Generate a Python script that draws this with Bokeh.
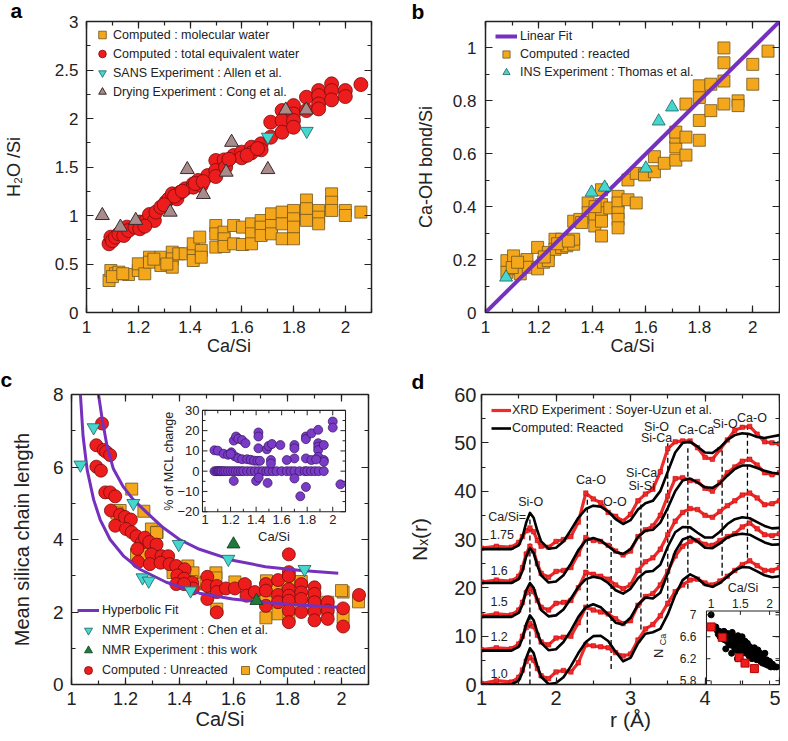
import math
from bokeh.plotting import figure
from bokeh.layouts import column, row
from bokeh.models import (LinearAxis, SingleIntervalTicker, Legend, Range1d, Title,
                          CustomJSTickFormatter, Whisker, ColumnDataSource, TeeHead)
from bokeh.embed import file_html
from bokeh.resources import INLINE
from bokeh.core.properties import value

# ---------------- panel a data ----------------
a_mol_x = [1.087, 1.094, 1.112, 1.125, 1.162, 1.2, 1.2, 1.225, 1.243, 1.243, 1.287, 1.287, 1.331, 1.331, 1.331,
           1.356, 1.381, 1.412, 1.412, 1.412, 1.437, 1.443, 1.443, 1.499, 1.499, 1.499, 1.531, 1.531, 1.531,
           1.568, 1.568, 1.602, 1.602, 1.637, 1.637, 1.637, 1.674, 1.674, 1.674, 1.714, 1.714, 1.714, 1.755,
           1.755, 1.755, 1.799, 1.799, 1.799, 1.799, 1.849, 1.849, 1.849, 1.896, 1.896, 1.896, 1.946, 1.946,
           1.946, 1.999, 1.999, 2.059, 1.10, 1.14, 1.26, 1.31]
a_mol_y = [0.330, 0.433, 0.399, 0.416, 0.392, 0.433, 0.502, 0.399, 0.570, 0.519, 0.570, 0.485, 0.622, 0.553, 0.467,
           0.605, 0.605, 0.622, 0.708, 0.536, 0.777, 0.639, 0.570, 0.897, 0.811, 0.674, 0.828, 0.760, 0.681,
           0.897, 0.708, 0.880, 0.701, 0.914, 0.811, 0.708, 0.948, 0.880, 0.794, 1.017, 0.897, 0.811, 1.035,
           0.914, 0.760, 1.052, 0.966, 0.880, 0.760, 1.160, 1.070, 0.950, 1.052, 0.983, 0.914, 1.223, 1.137,
           1.052, 1.052, 1.000, 1.035, 0.370, 0.400, 0.550, 0.500]
a_tot_x = [1.087, 1.094, 1.100, 1.112, 1.125, 1.144, 1.156, 1.162, 1.187, 1.206, 1.206, 1.231, 1.243, 1.262,
           1.268, 1.287, 1.306, 1.318, 1.331, 1.349, 1.362, 1.381, 1.412, 1.412, 1.431, 1.443, 1.468, 1.499,
           1.499, 1.499, 1.531, 1.537, 1.568, 1.599, 1.599, 1.637, 1.637, 1.674, 1.674, 1.711, 1.711, 1.755,
           1.755, 1.755, 1.799, 1.799, 1.799, 1.799, 1.849, 1.849, 1.896, 1.896, 1.896, 1.896, 1.946, 1.946,
           1.946, 1.999, 1.999, 2.059, 1.225, 1.300, 1.340, 1.370, 1.420, 1.450, 1.550, 1.620, 1.660]
a_tot_y = [0.708, 0.777, 0.740, 0.777, 0.811, 0.794, 0.880, 0.845, 0.880, 0.932, 0.863, 0.948, 1.010, 0.948,
           1.035, 1.086, 1.137, 1.172, 1.223, 1.172, 1.240, 1.275, 1.326, 1.292, 1.361, 1.309, 1.412, 1.567,
           1.464, 1.402, 1.573, 1.498, 1.618, 1.653, 1.595, 1.704, 1.646, 1.739, 1.677, 1.962, 1.807, 2.082,
           1.979, 1.859, 2.133, 2.047, 1.979, 1.910, 2.219, 2.082, 2.288, 2.236, 2.150, 2.099, 2.357, 2.288,
           2.192, 2.288, 2.226, 2.350, 0.890, 1.110, 1.200, 1.250, 1.330, 1.350, 1.580, 1.620, 1.690]
a_sans_x = [1.70, 1.85]
a_sans_y = [1.81, 1.87]
a_dry_x = [1.061, 1.131, 1.19, 1.323, 1.389, 1.451, 1.539, 1.56, 1.70, 1.769, 1.848]
a_dry_y = [1.00, 0.88, 0.95, 1.035, 1.474, 1.217, 1.447, 1.755, 1.474, 2.088, 2.088]

# ---------------- panel b data ----------------
b_fit_x = [1.0, 2.1]
b_fit_y = [0.0, 1.1]
b_comp_x = [1.08, 1.08, 1.105, 1.105, 1.13, 1.13, 1.155, 1.16, 1.195, 1.195, 1.217, 1.235, 1.235, 1.26, 1.26,
            1.285, 1.285, 1.304, 1.33, 1.33, 1.33, 1.353, 1.384, 1.384, 1.409, 1.409, 1.434, 1.434, 1.434,
            1.434, 1.434, 1.465, 1.496, 1.496, 1.496, 1.496, 1.496, 1.533, 1.533, 1.564, 1.564, 1.595, 1.632,
            1.632, 1.669, 1.712, 1.712, 1.712, 1.712, 1.75, 1.75, 1.75, 1.8, 1.8, 1.8, 1.8, 1.843, 1.843,
            1.892, 1.892, 1.892, 1.892, 1.945, 1.945, 2.0, 2.0, 2.057, 1.10, 1.12, 1.22, 1.27, 1.31, 1.36, 1.41]
b_comp_y = [0.196, 0.152, 0.214, 0.165, 0.177, 0.146, 0.2, 0.171, 0.246, 0.165, 0.19, 0.227, 0.196, 0.277, 0.239,
            0.277, 0.246, 0.252, 0.258, 0.277, 0.345, 0.352, 0.414, 0.377, 0.358, 0.327, 0.464, 0.408, 0.377,
            0.345, 0.289, 0.395, 0.439, 0.414, 0.377, 0.352, 0.32, 0.426, 0.501, 0.414, 0.526, 0.52, 0.532,
            0.589, 0.564, 0.576, 0.626, 0.663, 0.682, 0.595, 0.663, 0.788, 0.651, 0.726, 0.813, 0.857, 0.763,
            0.863, 0.788, 0.875, 0.944, 1.0, 0.8, 0.782, 0.863, 0.938, 0.988, 0.17, 0.19, 0.21, 0.26, 0.27,
            0.34, 0.40]
b_ins_x = [1.077, 1.397, 1.446, 1.60, 1.648, 1.698]
b_ins_y = [0.133, 0.454, 0.473, 0.545, 0.723, 0.776]

# ---------------- panel c data ----------------
c_fit_up_x = [1.100, 1.113, 1.131, 1.155, 1.192, 1.229, 1.278, 1.339, 1.400, 1.474, 1.596, 1.718, 1.841, 1.988]
c_fit_up_y = [8.00, 7.35, 6.60, 5.95, 5.45, 5.10, 4.75, 4.33, 4.00, 3.73, 3.43, 3.25, 3.15, 3.07]
c_fit_lo_x = [1.033, 1.043, 1.058, 1.082, 1.106, 1.143, 1.192, 1.253, 1.351, 1.474, 1.596, 1.718, 1.841, 1.988]
c_fit_lo_y = [8.00, 6.84, 5.92, 5.10, 4.55, 4.00, 3.55, 3.18, 2.82, 2.52, 2.36, 2.26, 2.19, 2.13]
c_chen_x = [1.033, 1.082, 1.229, 1.263, 1.286, 1.397, 1.441, 1.581, 1.863]
c_chen_y = [6.06, 7.09, 5.00, 2.95, 2.86, 3.87, 2.59, 3.46, 3.18]
c_this_x = [1.60, 1.685]
c_this_y = [3.87, 2.31]
c_unr_x = [1.113, 1.092, 1.119, 1.128, 1.143, 1.092, 1.109, 1.125, 1.143, 1.162, 1.146, 1.18, 1.198, 1.22, 1.162,
           1.202, 1.223, 1.241, 1.26, 1.272, 1.244, 1.288, 1.315, 1.296, 1.333, 1.358, 1.247, 1.29, 1.33, 1.363,
           1.388, 1.419, 1.392, 1.417, 1.447, 1.45, 1.388, 1.417, 1.503, 1.503, 1.503, 1.538, 1.538, 1.538,
           1.572, 1.605, 1.642, 1.648, 1.679, 1.72, 1.72, 1.72, 1.765, 1.765, 1.765, 1.805, 1.805, 1.805, 1.805,
           1.805, 1.805, 1.805, 1.805, 1.851, 1.851, 1.851, 1.851, 1.9, 1.9, 1.9, 1.9, 1.9, 1.949, 1.949, 1.949,
           2.006, 2.006, 2.065]
c_unr_y = [7.2, 6.60, 6.47, 6.42, 6.33, 6.01, 5.90, 5.30, 5.30, 5.19, 4.80, 4.68, 4.62, 4.55, 4.38,
           4.29, 4.20, 4.09, 3.91, 4.05, 3.74, 3.93, 3.86, 3.59, 3.54, 3.54, 3.38, 3.32, 3.36, 3.32,
           3.27, 3.18, 3.01, 2.92, 2.81, 2.65, 2.77, 2.77, 2.97, 2.72, 2.36, 2.72, 2.55, 1.99,
           2.65, 2.65, 2.77, 2.45, 2.55, 2.77, 2.59, 2.17, 2.88, 2.47, 2.27, 3.59, 3.10, 2.99, 2.63,
           2.45, 2.31, 2.04, 1.72, 2.77, 2.54, 2.36, 2.0, 2.68, 2.5, 2.27, 2.0, 1.77, 2.27, 2.04, 1.81,
           2.1, 1.6, 2.47]
c_rea_x = [1.223, 1.268, 1.18, 1.296, 1.317, 1.272, 1.29, 1.296, 1.317, 1.241, 1.278, 1.376, 1.4, 1.431, 1.45,
           1.419, 1.444, 1.5, 1.535, 1.535, 1.538, 1.605, 1.642, 1.722, 1.72, 1.72, 1.765, 1.765, 1.765, 1.805,
           1.805, 1.805, 1.851, 1.851, 1.9, 1.9, 1.949, 1.949, 2.006, 2.006, 2.063, 1.168, 1.315, 1.498, 1.755,
           2.0]
c_rea_y = [5.39, 4.78, 4.80, 4.29, 4.20, 3.73, 3.74, 3.54, 3.54, 3.59, 3.59, 3.09, 3.2, 3.27, 3.08,
           2.94, 2.84, 2.77, 3.08, 2.94, 2.08, 2.83, 2.7, 2.86, 2.4, 1.84, 2.77, 2.59, 1.95, 2.90,
           2.72, 1.9, 2.84, 2.2, 2.41, 2.23, 2.27, 2.04, 2.55, 1.85, 2.28, 4.73, 4.19, 2.82, 2.59, 2.59]
# inset c: % of MCL change
c_mcl_x = [1.074, 1.09, 1.10, 1.11, 1.12, 1.13, 1.146, 1.16, 1.18, 1.20, 1.22, 1.24, 1.26, 1.28, 1.30, 1.33,
           1.36, 1.39, 1.42, 1.45, 1.48, 1.50, 1.53, 1.56, 1.60, 1.64, 1.67, 1.70, 1.74, 1.78, 1.80, 1.83,
           1.86, 1.89, 1.93,
           1.074, 1.10, 1.146, 1.18, 1.206, 1.233, 1.26, 1.29, 1.33, 1.357, 1.384, 1.41, 1.43, 1.225, 1.243,
           1.26, 1.29, 1.317, 1.418, 1.418, 1.418, 1.484, 1.497, 1.524, 1.59, 1.70, 1.70, 1.70, 1.79, 1.79,
           1.833, 1.886, 1.886, 1.886, 1.886, 1.886, 1.93, 1.93, 1.79, 1.833, 1.64, 1.516, 1.516, 2.0, 2.0,
           1.225, 1.40, 1.42, 1.49, 1.70, 1.746, 1.79, 2.06, 1.20, 1.93, 1.87]
c_mcl_y = [0] * 35 + [
           10.3, 10.1, 8.6, 8.1, 9.3, 7.3, 6.4, 5.9, 5.9, 5.6, 5.2, 5.1, 5.1, 15.1, 17.1,
           16.0, 15.4, 13.8, 19.1, 17.1, 11.3, 10.8, 12.4, 13.4, 12.9, 12.9, 11.3, 6.3, 17.1, 15.8,
           18.7, 20.4, 13.8, 12.1, 10.4, 7.1, 12.9, 5.5, 6.3, 5.5, 5.5, 5.5, 3.8, 24.5, 21.5,
           -4.8, -4.8, -3.2, -5.8, -3.6, -12.4, -7.8, -6.5, 8.5, 4.6, 5.8]
c_in_xlim = (0.98, 2.1)
c_in_ylim = (-20, 30)
c_in_xmaj = [1.0, 1.2, 1.4, 1.6, 1.8, 2.0]
c_in_xmin = [1.1, 1.3, 1.5, 1.7, 1.9]
c_in_xlab = ["1", "1.2", "1.4", "1.6", "1.8", "2"]
c_in_ymaj = [-20, -10, 0, 10, 20, 30]
c_in_ymin = [-15, -5, 5, 15, 25]
c_in_ylab = ["\u221220", "\u221210", "0", "10", "20", "30"]

# ---------------- panel d data ----------------
d_r = [1.0, 1.2, 1.4, 1.5, 1.55, 1.6, 1.65, 1.7, 1.75, 1.8, 1.9, 2.0, 2.1, 2.2, 2.3, 2.4, 2.5, 2.6, 2.7, 2.8,
       2.9, 3.0, 3.1, 3.2, 3.3, 3.4, 3.5, 3.6, 3.7, 3.8, 3.9, 4.0, 4.1, 4.2, 4.3, 4.4, 4.5, 4.6, 4.7, 4.8,
       4.9, 5.0]
d_comp_100 = [0, 0, 0, 0.8, 2.5, 5.5, 7.5, 6.5, 3.8, 1.6, 0.1, 0.3, 1.5, 3.8, 6.5, 8.8, 10.0, 10.1, 9.0, 6.8,
              4.8, 5.5, 8.5, 10.5, 10.8, 11.5, 14.5, 18.5, 21.6, 22.8, 22.0, 20.6, 20.2, 21.0, 22.3, 23.6,
              24.3, 24.2, 23.4, 22.6, 22.2, 22.4]
d_comp_120 = [7, 7, 7, 7.8, 9.5, 12.5, 14.3, 13.3, 10.8, 8.6, 7.1, 7.3, 8.8, 11.2, 14.0, 16.0, 16.6, 16.0,
              14.5, 12.8, 12.4, 13.8, 16.5, 18.0, 17.8, 19.0, 23.0, 27.5, 30.0, 30.6, 29.6, 28.3, 28.2, 29.2,
              30.4, 31.0, 31.2, 31.0, 30.2, 29.4, 28.9, 29.0]
d_comp_150 = [14, 14, 14, 14.8, 16.5, 19.5, 21.0, 20.0, 17.5, 15.4, 14.1, 14.3, 15.5, 17.8, 20.2, 21.8, 22.3,
              22.0, 21.0, 19.5, 18.8, 19.8, 22.0, 23.3, 23.5, 24.8, 28.5, 31.5, 32.6, 32.5, 31.4, 30.4, 30.4,
              31.6, 33.2, 34.2, 34.6, 34.4, 33.6, 32.8, 32.3, 32.4]
d_comp_160 = [21, 21, 21, 21.8, 23.5, 26.5, 28.2, 27.2, 24.6, 22.6, 21.1, 21.3, 22.6, 25.0, 27.8, 29.8, 30.3,
              29.8, 28.6, 27.4, 27.0, 28.0, 30.5, 31.8, 32.0, 33.5, 36.5, 40.0, 42.2, 42.6, 41.8, 40.8, 40.7,
              41.6, 43.2, 44.6, 45.3, 45.3, 44.8, 44.2, 43.8, 43.6]
d_comp_175 = [28, 28, 28, 28.8, 30.5, 33.5, 35.5, 34.5, 31.8, 29.6, 28.1, 28.3, 29.6, 32.0, 34.5, 36.3, 37.0,
              36.8, 35.8, 34.2, 33.2, 34.0, 36.2, 37.5, 38.0, 40.0, 44.0, 48.0, 50.0, 50.2, 49.2, 48.0, 47.9,
              49.0, 50.6, 51.6, 52.0, 51.8, 51.2, 51.0, 51.3, 51.6]
d_exp_100 = [0.2, 0.8, 0.5, 1.5, 3.0, 4.8, 5.6, 5.0, 3.3, 1.8, 1.2, 2.6, 2.9, 2.6, 4.5, 8.2, 8.0, 7.8, 7.6, 6.6,
             5.9, 6.3, 9.2, 11.5, 12.4, 14.2, 16.8, 19.2, 20.6, 21.6, 21.8, 21.0, 20.6, 21.4, 22.4, 23.6,
             24.8, 25.6, 24.6, 23.6, 23.6, 24.2]
d_exp_120 = [7.2, 7.6, 7.4, 8.4, 10.0, 11.8, 12.6, 12.0, 10.2, 8.8, 8.2, 9.6, 9.8, 10.0, 12.8, 16.0, 15.4,
             15.0, 14.6, 13.6, 12.6, 13.2, 16.4, 18.2, 18.8, 20.6, 23.4, 26.6, 28.6, 29.6, 29.8, 29.0, 28.8,
             29.8, 30.6, 31.2, 32.6, 33.4, 32.2, 31.0, 30.8, 31.2]
d_exp_150 = [14.2, 14.6, 14.4, 15.4, 17.0, 19.0, 19.8, 19.2, 17.4, 16.0, 15.4, 16.8, 17.0, 17.4, 20.0, 23.2,
             22.8, 22.4, 21.8, 20.6, 19.8, 20.6, 23.6, 25.4, 26.2, 28.0, 31.0, 33.8, 35.6, 36.4, 36.2, 35.0,
             34.6, 35.8, 37.0, 38.0, 39.2, 39.6, 38.6, 37.2, 37.4, 38.0]
d_exp_160 = [21.2, 21.6, 21.4, 22.4, 24.2, 27.0, 28.6, 27.6, 25.0, 23.0, 22.2, 23.4, 23.6, 24.2, 27.0, 30.4,
             29.8, 29.6, 28.8, 27.6, 26.8, 27.6, 30.6, 32.0, 32.8, 35.0, 39.0, 42.6, 42.8, 42.2, 42.0, 40.6,
             40.0, 41.8, 43.8, 45.0, 46.2, 46.6, 45.4, 43.8, 43.4, 43.8]
d_exp_175 = [28.2, 28.6, 28.4, 29.4, 30.6, 31.8, 32.4, 31.6, 29.8, 28.6, 28.4, 29.6, 30.0, 30.6, 33.6, 39.6,
             38.4, 37.6, 35.6, 34.8, 33.8, 35.2, 38.0, 39.4, 40.4, 44.0, 48.8, 50.2, 50.4, 50.4, 49.0, 47.0,
             46.6, 48.6, 50.6, 52.6, 53.2, 53.4, 51.8, 50.2, 50.0, 49.8]
d_dash_r = [1.65, 2.42, 2.74, 3.14, 3.50, 3.77, 4.23, 4.57]
d_dash_lo = [0.0, 10.7, 3.2, 11.4, 16.1, 19.8, 22.5, 26.2]
d_dash_hi = [34.7, 39.7, 34.0, 38.0, 49.9, 48.9, 48.9, 53.2]
d_pk_text = ["Si-O", "Ca-O", "O-O", "Si-Ca", "Si-Si", "Si-O", "Si-Ca", "Ca-Ca", "Si-O", "Ca-O"]
d_pk_r = [1.66, 2.47, 2.79, 3.15, 3.15, 3.35, 3.35, 3.88, 4.27, 4.63]
d_pk_y = [37.8, 42.3, 37.7, 43.8, 41.1, 53.2, 50.9, 52.6, 54.0, 55.1]
d_cs_text = ["Ca/Si=", "1.75", "1.6", "1.5", "1.2", "1.0"]
d_cs_r = [1.09, 1.11, 1.12, 1.12, 1.12, 1.12]
d_cs_y = [34.7, 31.0, 23.5, 17.1, 10.0, 2.2]
# inset d: N_Ca vs Ca/Si
d_nca_exp_x = [1.0, 1.19, 1.48, 1.58, 1.74]
d_nca_exp_y = [6.78, 6.59, 6.22, 6.12, 6.02]
d_nca_exp_err = [0.17, 0.14, 0.15, 0.15, 0.15]
d_nca_comp_x = [1.0, 1.08, 1.1, 1.12, 1.14, 1.15, 1.18, 1.2, 1.22, 1.22, 1.25, 1.27, 1.28, 1.3, 1.3, 1.32,
                1.33, 1.35, 1.36, 1.38, 1.4, 1.4, 1.42, 1.44, 1.45, 1.46, 1.48, 1.5, 1.5, 1.52, 1.53, 1.55,
                1.56, 1.58, 1.6, 1.6, 1.62, 1.64, 1.65, 1.66, 1.68, 1.7, 1.7, 1.72, 1.74, 1.75, 1.76, 1.78,
                1.8, 1.8, 1.82, 1.84, 1.85, 1.87, 1.88, 1.9, 1.92, 1.93, 1.95, 1.97, 2.0, 2.02, 2.05, 2.08,
                2.12, 1.35, 1.25, 1.45]
d_nca_comp_y = [7.0, 6.78, 6.72, 6.65, 6.7, 6.6, 6.68, 6.62, 6.55, 6.7, 6.6, 6.52, 6.66, 6.48, 6.58, 6.62,
                6.45, 6.55, 6.68, 6.5, 6.6, 6.4, 6.55, 6.48, 6.35, 6.62, 6.5, 6.42, 6.56, 6.3, 6.6, 6.45,
                6.38, 6.52, 6.4, 6.3, 6.48, 6.35, 6.25, 6.42, 6.3, 6.38, 6.2, 6.3, 6.4, 6.22, 6.32, 6.18,
                6.28, 6.36, 6.2, 6.3, 6.15, 6.25, 6.12, 6.2, 6.3, 6.1, 6.18, 6.08, 6.15, 6.05, 6.1, 6.05,
                6.05, 6.3, 6.38, 6.2]
d_in_xlim = (0.92, 2.17)
d_in_ylim = (5.73, 7.07)
d_in_xmaj = [1.0, 1.5, 2.0]
d_in_xlab = ["1", "1.5", "2"]
d_in_ymaj = [5.8, 6.2, 6.6, 7.0]
d_in_ylab = ["5.8", "6.2", "6.6", "7"]

# ---------------- styling ----------------
FONT = "Liberation Sans"
INK = "#222222"
RED, RED_EDGE = "#ee1d1d", "#7a0a0a"
ORANGE, ORANGE_EDGE = "#f5a71c", "#6e5420"
CYAN, CYAN_EDGE = "#45d6d0", "#1f5f5c"
MAUVE, MAUVE_EDGE = "#a88c8c", "#3a2a2a"
GREEN, GREEN_EDGE = "#1d7a3c", "#0c3a1a"
PURPLE = "#7431bd"
PURPLE_DOT, PURPLE_EDGE = "#7a3cc6", "#35145f"


def fmt():
    return CustomJSTickFormatter(code="var v = Math.round(tick*1000)/1000; return String(v).replace('-', '\u2212');")


def blank():
    return CustomJSTickFormatter(code="return '';")


def add_axis(p, side, ticker, labels=True, tick_px=17, title=None, title_px=18, standoff=7,
             title_standoff=6):
    ax = LinearAxis(ticker=ticker, formatter=fmt() if labels else blank(), axis_line_color=None,
                    major_tick_in=7, major_tick_out=0, minor_tick_in=4, minor_tick_out=0,
                    major_tick_line_color=INK, minor_tick_line_color=INK,
                    major_tick_line_width=1.2, minor_tick_line_width=1.2,
                    major_label_text_font=FONT, major_label_text_font_size=f"{tick_px}px",
                    major_label_text_color=INK, major_label_standoff=standoff if labels else 0)
    if title is not None:
        ax.axis_label = title
        ax.axis_label_text_font = FONT
        ax.axis_label_text_font_size = f"{title_px}px"
        ax.axis_label_text_font_style = "normal"
        ax.axis_label_text_color = INK
        ax.axis_label_standoff = title_standoff
    p.add_layout(ax, side)
    return ax


def letter_title(p, letter, offset, standoff, px=21):
    p.title = Title(text=letter, align="left", vertical_align="top", offset=offset, standoff=standoff,
                    text_font=FONT, text_font_style="bold", text_font_size=f"{px}px", text_color="black")


def sit(interval, minor):
    return SingleIntervalTicker(interval=interval, num_minor_ticks=minor)


def make_fig(w, h, xr, yr, bl, br, bt, bb):
    p = figure(width=w, height=h, x_range=Range1d(*xr), y_range=Range1d(*yr), output_backend="svg",
               toolbar_location=None, x_axis_location=None, y_axis_location=None, title=None,
               min_border_left=bl, min_border_right=br, min_border_top=bt, min_border_bottom=bb,
               background_fill_color="white", border_fill_color="white",
               outline_line_color=INK, outline_line_width=1.5)
    p.xgrid.visible = False
    p.ygrid.visible = False
    return p


def add_legend(p, items, loc, gw, gh, standoff):
    lg = Legend(items=items, location=loc, orientation="vertical", background_fill_alpha=0,
                border_line_color=None, padding=0, margin=0, glyph_width=gw, glyph_height=gh,
                label_height=gh, spacing=0, label_standoff=standoff,
                label_text_font=FONT, label_text_font_size="12.5px", label_text_color=INK)
    p.add_layout(lg)
    return lg


def inset_ranges(p, key, frac_x, frac_y, ix, iy):
    sx = (ix[1] - ix[0]) / (frac_x[1] - frac_x[0])
    x0 = ix[0] - frac_x[0] * sx
    sy = (iy[1] - iy[0]) / (frac_y[1] - frac_y[0])
    y0 = iy[0] - frac_y[0] * sy
    p.extra_x_ranges[key] = Range1d(x0, x0 + sx)
    p.extra_y_ranges[key] = Range1d(y0, y0 + sy)


def inset_frame(p, key, ix, iy):
    p.quad(left=[ix[0]], right=[ix[1]], bottom=[iy[0]], top=[iy[1]], fill_color="white",
           line_color=INK, line_width=1.1, x_range_name=key, y_range_name=key)


def inset_ticks(p, key, ix, iy, pxw, pxh, xmaj, xmin, ymaj, ymin, L=5, l=3):
    dx = (ix[1] - ix[0]) / pxw
    dy = (iy[1] - iy[0]) / pxh
    x0s, y0s, x1s, y1s = [], [], [], []
    for ticks, ln in ((xmaj, L), (xmin, l)):
        for t in ticks:
            x0s += [t, t]; x1s += [t, t]
            y0s += [iy[0], iy[1]]; y1s += [iy[0] + ln * dy, iy[1] - ln * dy]
    for ticks, ln in ((ymaj, L), (ymin, l)):
        for t in ticks:
            y0s += [t, t]; y1s += [t, t]
            x0s += [ix[0], ix[1]]; x1s += [ix[0] + ln * dx, ix[1] - ln * dx]
    p.segment(x0=x0s, y0=y0s, x1=x1s, y1=y1s, line_color=INK, line_width=1.0,
              x_range_name=key, y_range_name=key)


def itext(p, key, xs, ys, texts, px, align="center", baseline="middle", xo=0, yo=0, angle=0.0):
    p.text(x=xs, y=ys, text=texts, text_font=value(FONT), text_font_size=f"{px}px", text_color=INK,
           text_align=align, text_baseline=baseline, x_offset=xo, y_offset=yo, angle=angle,
           x_range_name=key, y_range_name=key)


# ---------------- panel a ----------------
pa = make_fig(390, 364, (1, 2.1), (0, 3), 76, 19, 21, 52)
add_axis(pa, "below", sit(0.2, 2), True, 17, "Ca/Si", 18, 8, 0)
add_axis(pa, "left", sit(0.5, 2), True, 17, "H\u2082O /Si", 18, 8, 28)
add_axis(pa, "above", sit(0.2, 2), False)
add_axis(pa, "right", sit(0.5, 2), False)
letter_title(pa, "a", -76, -5)
ra_mol = pa.scatter(a_mol_x, a_mol_y, marker="square", size=12, fill_color=ORANGE, line_color=ORANGE_EDGE, line_width=0.8)
ra_tot = pa.scatter(a_tot_x, a_tot_y, marker="circle", size=14, fill_color=RED, line_color=RED_EDGE, line_width=0.8)
ra_sans = pa.scatter(a_sans_x, a_sans_y, marker="inverted_triangle", size=13, fill_color=CYAN, line_color=CYAN_EDGE, line_width=0.8)
ra_dry = pa.scatter(a_dry_x, a_dry_y, marker="triangle", size=14, fill_color=MAUVE, line_color=MAUVE_EDGE, line_width=1.0)
add_legend(pa, [("Computed : molecular water", [ra_mol]), ("Computed : total equivalent water", [ra_tot]),
                ("SANS Experiment : Allen et al.", [ra_sans]), ("Drying Experiment : Cong et al.", [ra_dry])],
           (6, 211), 20, 19, 1)

# ---------------- panel b ----------------
pb = make_fig(390, 364, (1, 2.1), (0, 1.1), 95, 1, 19, 50)
add_axis(pb, "below", sit(0.2, 2), True, 17, "Ca/Si", 18, 8, 0)
add_axis(pb, "left", sit(0.2, 2), True, 17, "Ca-OH bond/Si", 18, 9, 14)
add_axis(pb, "above", sit(0.2, 2), False)
add_axis(pb, "right", sit(0.2, 2), False)
letter_title(pb, "b", -74, -7)
rb_comp = pb.scatter(b_comp_x, b_comp_y, marker="square", size=12, fill_color=ORANGE, line_color=ORANGE_EDGE, line_width=0.8)
rb_fit = pb.line(b_fit_x, b_fit_y, line_color=PURPLE, line_width=4)
rb_ins = pb.scatter(b_ins_x, b_ins_y, marker="triangle", size=13, fill_color=CYAN, line_color=CYAN_EDGE, line_width=0.8)
add_legend(pb, [("Linear Fit", [rb_fit]), ("Computed : reacted", [rb_comp]),
                ("INS Experiment : Thomas et al.", [rb_ins])], (10, 231), 22, 18, 3)

# ---------------- panel c ----------------
pc = make_fig(390, 369, (1, 2.1), (0, 8), 71, 22, 30, 47)
add_axis(pc, "below", sit(0.2, 2), True, 18, "Ca/Si", 20, 7, 0)
add_axis(pc, "left", sit(2, 2), True, 19, "Mean silica chain length", 20, 8, 17)
add_axis(pc, "above", sit(0.2, 2), False)
add_axis(pc, "right", sit(2, 2), False)
letter_title(pc, "c", -71, 4)
rc_rea = pc.scatter(c_rea_x, c_rea_y, marker="square", size=12, fill_color=ORANGE, line_color=ORANGE_EDGE, line_width=0.8)
rc_unr = pc.scatter(c_unr_x, c_unr_y, marker="circle", size=13, fill_color=RED, line_color=RED_EDGE, line_width=0.8)
rc_up = pc.line(c_fit_up_x, c_fit_up_y, line_color=PURPLE, line_width=3)
rc_lo = pc.line(c_fit_lo_x, c_fit_lo_y, line_color=PURPLE, line_width=3)
rc_chen = pc.scatter(c_chen_x, c_chen_y, marker="inverted_triangle", size=13, fill_color=CYAN, line_color=CYAN_EDGE, line_width=0.8)
rc_this = pc.scatter(c_this_x, c_this_y, marker="triangle", size=13, fill_color=GREEN, line_color=GREEN_EDGE, line_width=0.8)
add_legend(pc, [("Hyperbolic Fit", [rc_up]), ("NMR Experiment : Chen et al.", [rc_chen]),
                ("NMR Experiment : this work", [rc_this]), ("Computed : Unreacted", [rc_unr])], (6, 4), 22, 20, 3)
add_legend(pc, [("Computed : reacted", [rc_rea])], (163, 4), 22, 20, 0)
# inset c (drawn on its own ranges inside panel c)
inset_ranges(pc, "ic", (0.441, 0.9226), (0.5959, 0.9452), c_in_xlim, c_in_ylim)
inset_frame(pc, "ic", c_in_xlim, c_in_ylim)
pc.scatter(c_mcl_x, c_mcl_y, marker="circle", size=9, fill_color=PURPLE_DOT, line_color=PURPLE_EDGE,
           line_width=0.7, x_range_name="ic", y_range_name="ic")
inset_ticks(pc, "ic", c_in_xlim, c_in_ylim, 143, 102, c_in_xmaj, c_in_xmin, c_in_ymaj, c_in_ymin)
itext(pc, "ic", c_in_xmaj, [c_in_ylim[0]] * len(c_in_xmaj), c_in_xlab, 13, "center", "top", 0, 3)
itext(pc, "ic", [c_in_xlim[0]] * len(c_in_ymaj), c_in_ymaj, c_in_ylab, 13, "right", "middle", -3, 0)
itext(pc, "ic", [(c_in_xlim[0] + c_in_xlim[1]) / 2], [c_in_ylim[0]], ["Ca/Si"], 13, "center", "top", 0, 17)
itext(pc, "ic", [c_in_xlim[0]], [(c_in_ylim[0] + c_in_ylim[1]) / 2], ["% of MCL change"], 12.5,
      "center", "middle", -33, 0, math.pi / 2)

# ---------------- panel d ----------------
pd = make_fig(390, 369, (1, 5), (0, 60), 91, 1, 28, 45)
add_axis(pd, "below", sit(1, 2), True, 20, "r (\u00c5)", 21, 6, 0)
add_axis(pd, "left", sit(10, 2), True, 20, "N\u2093(r)", 21, 5, 20)
add_axis(pd, "above", sit(1, 2), False)
add_axis(pd, "right", sit(10, 2), False)
letter_title(pd, "d", -70, -1)
pd.segment(x0=d_dash_r, y0=d_dash_lo, x1=d_dash_r, y1=d_dash_hi, line_color="black", line_width=1.3, line_dash="5 3")
rd_exp = None
for yv in [d_exp_100, d_exp_120, d_exp_150, d_exp_160, d_exp_175]:
    rl = pd.line(d_r, yv, line_color="#ee2a2a", line_width=3.2)
    pd.scatter(d_r, yv, marker="square", size=4.5, fill_color="#ee2a2a", line_color="#c40000", line_width=0.5)
    rd_exp = rd_exp or rl
rd_comp = None
for yv in [d_comp_100, d_comp_120, d_comp_150, d_comp_160, d_comp_175]:
    rl = pd.line(d_r, yv, line_color="black", line_width=2.6, line_join="round")
    rd_comp = rd_comp or rl
pd.text(x=d_pk_r, y=d_pk_y, text=d_pk_text, text_font=value(FONT), text_font_size="12.5px",
        text_align="center", text_baseline="middle", text_color=INK)
pd.text(x=d_cs_r, y=d_cs_y, text=d_cs_text, text_font=value(FONT), text_font_size="12.5px",
        text_align="left", text_baseline="middle", text_color=INK)
add_legend(pd, [("XRD Experiment : Soyer-Uzun et al.", [rd_exp]), ("Computed: Reacted", [rd_comp])],
           (10, 247), 20, 18, 1)
# inset d
inset_ranges(pd, "id", (0.755, 1.0), (0.0, 0.2534), d_in_xlim, d_in_ylim)
inset_frame(pd, "id", d_in_xlim, d_in_ylim)
pd.scatter(d_nca_comp_x, d_nca_comp_y, marker="circle", size=6, fill_color="black", line_color="black",
           x_range_name="id", y_range_name="id")
src_err = ColumnDataSource(dict(x=d_nca_exp_x, lo=[v - e for v, e in zip(d_nca_exp_y, d_nca_exp_err)],
                                hi=[v + e for v, e in zip(d_nca_exp_y, d_nca_exp_err)]))
pd.add_layout(Whisker(source=src_err, base="x", lower="lo", upper="hi", dimension="height",
                      line_color="#ee3333", line_width=1.2, x_range_name="id", y_range_name="id",
                      lower_head=TeeHead(size=7, line_color="#ee3333"),
                      upper_head=TeeHead(size=7, line_color="#ee3333")))
pd.scatter(d_nca_exp_x, d_nca_exp_y, marker="square", size=8, fill_color="#ee1d1d", line_color="#b00000",
           x_range_name="id", y_range_name="id")
inset_ticks(pd, "id", d_in_xlim, d_in_ylim, 73, 75, d_in_xmaj, [], d_in_ymaj, [], 4, 2)
itext(pd, "id", d_in_xmaj, [d_in_ylim[1]] * len(d_in_xmaj), d_in_xlab, 12, "center", "bottom", 0, -3)
itext(pd, "id", [(d_in_xlim[0] + d_in_xlim[1]) / 2], [d_in_ylim[1]], ["Ca/Si"], 12.5, "center", "bottom", 0, -16)
itext(pd, "id", [d_in_xlim[0]] * len(d_in_ymaj), d_in_ymaj, d_in_ylab, 12, "right", "middle", -10, 0)
itext(pd, "id", [d_in_xlim[0]], [6.30], ["N"], 13, "center", "middle", -48, 0, math.pi / 2)
itext(pd, "id", [d_in_xlim[0]], [6.55], ["Ca"], 9, "center", "middle", -43, 0, math.pi / 2)

layout = column(row(pa, pb), row(pc, pd))
open("out.html", "w").write(file_html(layout, INLINE))
